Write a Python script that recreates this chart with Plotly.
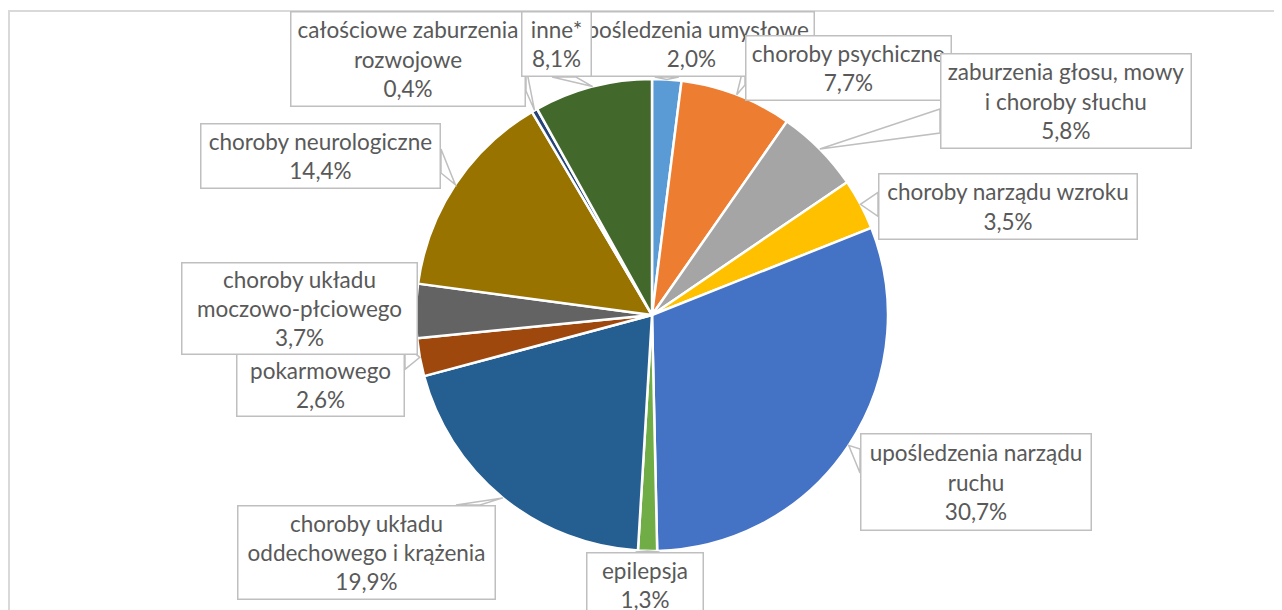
import math
import plotly.graph_objects as go

W, H = 1282, 610
OFF = 8  # page body margin in the browser

# ---- data ----
categories = [
    "upośledzenia umysłowe",
    "choroby psychiczne",
    "zaburzenia głosu, mowy i choroby słuchu",
    "choroby narządu wzroku",
    "upośledzenia narządu ruchu",
    "epilepsja",
    "choroby układu oddechowego i krążenia",
    "choroby układu pokarmowego",
    "choroby układu moczowo-płciowego",
    "choroby neurologiczne",
    "całościowe zaburzenia rozwojowe",
    "inne*",
]
values = [2.0, 7.7, 5.8, 3.5, 30.7, 1.3, 19.9, 2.6, 3.7, 14.4, 0.4, 8.1]
label_lines = [
    "upośledzenia umysłowe",
    "choroby psychiczne",
    "zaburzenia głosu, mowy<br>i choroby słuchu",
    "choroby narządu wzroku",
    "upośledzenia narządu<br>ruchu",
    "epilepsja",
    "choroby układu<br>oddechowego i krążenia",
    "choroby układu<br>pokarmowego",
    "choroby układu<br>moczowo-płciowego",
    "choroby neurologiczne",
    "całościowe zaburzenia<br>rozwojowe",
    "inne*",
]
colors = ["#5B9BD5", "#ED7D31", "#A5A5A5", "#FFC000", "#4472C4", "#70AD47",
          "#255E91", "#9E480E", "#636363", "#997300", "#264478", "#43682B"]

# ---- layout (pixel boxes for callouts: x0, y0, x1, y1) ----
boxes = [
    (568, 11, 815, 77),
    (745, 35, 952, 101),
    (940, 53, 1192, 149),
    (878, 173, 1138, 240),
    (860, 433, 1092, 531),
    (586, 552, 704, 618),
    (237, 505, 496, 600),
    (236, 324, 405, 417),
    (181, 262, 418, 355),
    (200, 123, 441, 189),
    (290, 11, 526, 107),
    (521, 11, 592, 77),
]
draw_order = [0, 10, 11, 1, 2, 3, 4, 5, 6, 7, 8, 9]

PIE_X0, PIE_X1, PIE_Y0, PIE_Y1 = 416, 888, 79, 551
CX, CY = (PIE_X0 + PIE_X1) / 2, (PIE_Y0 + PIE_Y1) / 2
R = (PIE_X1 - PIE_X0) / 2

TXT = "#595959"
BORDER = "#BFBFBF"
FONT = "Lato"
FS = 22.5


def fx(x):
    return (x - OFF) / W


def fy(y):
    return 1 - (y - OFF) / H


fig = go.Figure()
fig.add_trace(go.Pie(
    labels=categories, values=values, sort=False, direction="clockwise",
    rotation=0, textinfo="none", hoverinfo="label+percent",
    marker=dict(colors=colors, line=dict(color="white", width=2.5)),
    domain=dict(x=[fx(PIE_X0), fx(PIE_X1)], y=[fy(PIE_Y1), fy(PIE_Y0)]),
    showlegend=False,
))

shapes = [dict(type="rect", xref="paper", yref="paper",
               x0=fx(9), y0=fy(11), x1=fx(W + 40), y1=fy(H + 40),
               line=dict(color="#D9D9D9", width=2), fillcolor="rgba(0,0,0,0)",
               layer="below")]

total = sum(values)
cum = 0.0
tips = []
for v in values:
    a = 2 * math.pi * (cum + v / 2) / total
    tips.append((CX + R * math.sin(a), CY - R * math.cos(a)))
    cum += v

HALF, INSET = 12, 16
for i in draw_order:
    x0, y0, x1, y1 = boxes[i]
    tx, ty = tips[i]
    ex = {"left": x0 - tx, "right": tx - x1, "top": y0 - ty, "bottom": ty - y1}
    side = max(ex, key=ex.get)
    if ex[side] <= 1:
        continue
    if side in ("left", "right"):
        ex_x = x0 if side == "left" else x1
        c = min(max(ty, y0 + INSET + HALF), y1 - INSET - HALF)
        p1, p2 = (ex_x, c - HALF), (ex_x, c + HALF)
    else:
        ex_y = y0 if side == "top" else y1
        c = min(max(tx, x0 + INSET + HALF), x1 - INSET - HALF)
        p1, p2 = (c - HALF, ex_y), (c + HALF, ex_y)
    path = "M {:.5f},{:.5f} L {:.5f},{:.5f} L {:.5f},{:.5f} Z".format(
        fx(p1[0]), fy(p1[1]), fx(tx), fy(ty), fx(p2[0]), fy(p2[1]))
    shapes.append(dict(type="path", xref="paper", yref="paper", path=path,
                       fillcolor="white", line=dict(color=BORDER, width=1.5),
                       layer="above"))

annotations = []
BW = 1.5
for i in draw_order:
    x0, y0, x1, y1 = boxes[i]
    txt = label_lines[i] + "<br>" + ("%.1f%%" % values[i]).replace(".", ",")
    annotations.append(dict(
        xref="paper", yref="paper", x=fx((x0 + x1) / 2), y=fy((y0 + y1) / 2),
        xanchor="center", yanchor="middle", showarrow=False, text=txt,
        align="center", valign="middle",
        width=(x1 - x0) - 2 * BW, height=(y1 - y0) - 2 * BW, borderpad=0,
        bgcolor="white", bordercolor=BORDER, borderwidth=BW,
        font=dict(family=FONT, size=FS, color=TXT),
    ))

fig.update_layout(
    width=W, height=H, autosize=False,
    margin=dict(l=0, r=0, t=0, b=0),
    paper_bgcolor="white", plot_bgcolor="white",
    shapes=shapes, annotations=annotations,
)
fig.write_html("out.html")
